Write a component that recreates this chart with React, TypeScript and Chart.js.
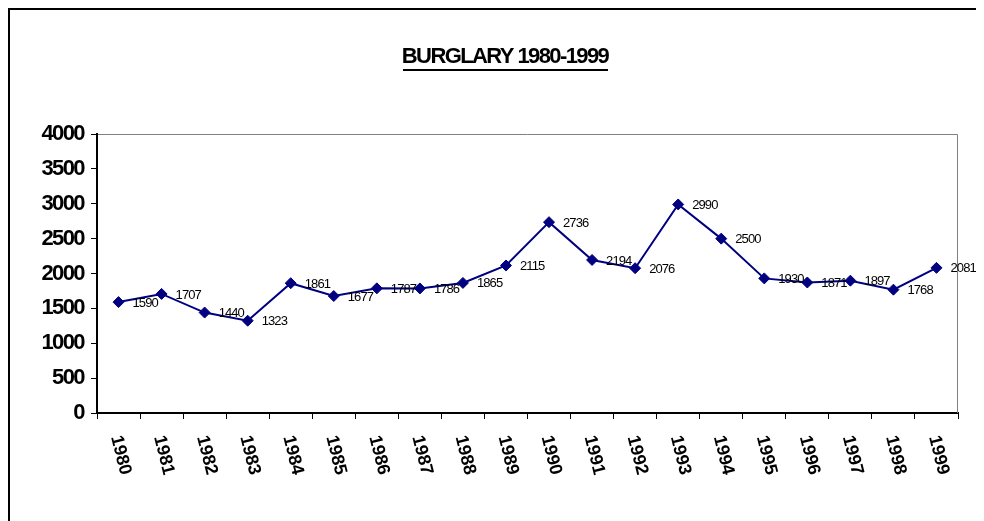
import { useEffect, useRef } from "react";
import { Chart, registerables } from "chart.js";

Chart.register(...registerables);

const titleText = "BURGLARY 1980-1999";
const years = [
  "1980", "1981", "1982", "1983", "1984", "1985", "1986", "1987", "1988", "1989",
  "1990", "1991", "1992", "1993", "1994", "1995", "1996", "1997", "1998", "1999",
];
const burglaries = [
  1590, 1707, 1440, 1323, 1861, 1677, 1787, 1786, 1865, 2115,
  2736, 2194, 2076, 2990, 2500, 1930, 1871, 1897, 1768, 2081,
];
const yMin = 0;
const yMax = 4000;
const yStep = 500;

const FONT = "'Liberation Sans', Arial, Helvetica, sans-serif";
const TITLE_SIZE = 22;
const TITLE_PAD_TOP = 34;
const TITLE_CENTER_X = 495;

const excelPlugin = {
  id: "excelStyle",
  afterLayout(chart: any) {
    const tb = chart.titleBlock;
    if (!tb) return;
    const shift = TITLE_CENTER_X - (tb.left + tb.right) / 2;
    tb.left += shift;
    tb.right += shift;
  },
  beforeDraw(chart: any) {
    chart.ctx.letterSpacing = "-1.6px";
  },
  beforeDatasetsDraw(chart: any) {
    const { ctx, chartArea: a } = chart;
    ctx.save();
    ctx.strokeStyle = "#808080";
    ctx.lineWidth = 1;
    ctx.beginPath();
    ctx.moveTo(a.left + 1, Math.round(a.top) + 0.5);
    ctx.lineTo(Math.round(a.right) - 0.5, Math.round(a.top) + 0.5);
    ctx.lineTo(Math.round(a.right) - 0.5, a.bottom);
    ctx.stroke();
    ctx.restore();
  },
  afterDatasetsDraw(chart: any) {
    const ctx = chart.ctx;
    const meta = chart.getDatasetMeta(0);
    ctx.save();
    ctx.letterSpacing = "-0.9px";
    ctx.font = `13px ${FONT}`;
    ctx.fillStyle = "#000";
    ctx.textAlign = "left";
    ctx.textBaseline = "middle";
    meta.data.forEach((pt: any, i: number) => {
      ctx.fillText(String(burglaries[i]), pt.x + 14, pt.y + 1);
    });
    ctx.restore();
    ctx.letterSpacing = "0px";
  },
  afterDraw(chart: any) {
    const tb = chart.titleBlock;
    if (!tb) return;
    const ctx = chart.ctx;
    ctx.save();
    ctx.letterSpacing = "-1.6px";
    ctx.font = `bold ${TITLE_SIZE}px ${FONT}`;
    const w = ctx.measureText(titleText).width - 1.6;
    const cx = (tb.left + tb.right) / 2;
    const y = tb.top + TITLE_PAD_TOP + (TITLE_SIZE * 1.2) / 2 + 13;
    ctx.fillStyle = "#000";
    ctx.fillRect(Math.round(cx - w / 2), Math.round(y - 1), Math.round(w), 2);
    ctx.restore();
  },
};

export default function App() {
  const canvasRef = useRef<HTMLCanvasElement | null>(null);

  useEffect(() => {
    document.documentElement.style.overflow = "hidden";
    document.body.style.overflow = "hidden";
    const canvas = canvasRef.current;
    if (!canvas) return;
    const chart = new Chart(canvas, {
      type: "line",
      data: {
        labels: years,
        datasets: [
          {
            label: "Burglary",
            data: burglaries,
            borderColor: "#000080",
            backgroundColor: "#000080",
            borderWidth: 2,
            pointStyle: "rectRot",
            pointRadius: 5.5,
            pointBorderWidth: 1,
            pointBackgroundColor: "#000080",
            pointBorderColor: "#000080",
            tension: 0,
            fill: false,
          },
        ],
      },
      options: {
        animation: false,
        responsive: false,
        events: [],
        layout: { padding: { left: 28, right: 26, top: 0, bottom: 0 } },
        plugins: {
          legend: { display: false },
          tooltip: { enabled: false },
          title: {
            display: true,
            text: titleText,
            color: "#000",
            font: { family: FONT, size: TITLE_SIZE, weight: "bold" },
            padding: { top: TITLE_PAD_TOP, bottom: 63.6 },
          },
        },
        scales: {
          x: {
            type: "category",
            offset: true,
            grid: {
              display: true,
              offset: true,
              drawOnChartArea: false,
              drawTicks: true,
              tickLength: 6,
              color: "#000",
              lineWidth: 1,
            },
            border: { display: true, color: "#000", width: 2 },
            ticks: {
              z: 1,
              autoSkip: false,
              minRotation: -76,
              maxRotation: -76,
              padding: 53,
              labelOffset: 7,
              color: "#000",
              font: { family: FONT, size: 18, weight: "bold" },
            },
            afterFit: (s: any) => {
              s.height = 108;
              s.paddingLeft = 0;
              s.paddingRight = 0;
            },
          },
          y: {
            min: yMin,
            max: yMax,
            ticks: {
              stepSize: yStep,
              padding: 7,
              color: "#000",
              font: { family: FONT, size: 22, weight: "bold" },
              callback: (v: any) => String(v),
            },
            grid: {
              drawOnChartArea: false,
              drawTicks: true,
              tickLength: 6,
              color: "#000",
              lineWidth: 1,
            },
            border: { display: true, color: "#000", width: 2 },
            afterFit: (s: any) => {
              s.width = 59;
            },
          },
        },
      },
      plugins: [excelPlugin],
    } as any);
    return () => chart.destroy();
  }, []);

  return (
    <div
      style={{
        borderTop: "2px solid #000",
        borderLeft: "2px solid #000",
        width: 974,
        height: 511,
        background: "#fff",
      }}
    >
      <canvas ref={canvasRef} width={974} height={511} style={{ display: "block" }} />
    </div>
  );
}
